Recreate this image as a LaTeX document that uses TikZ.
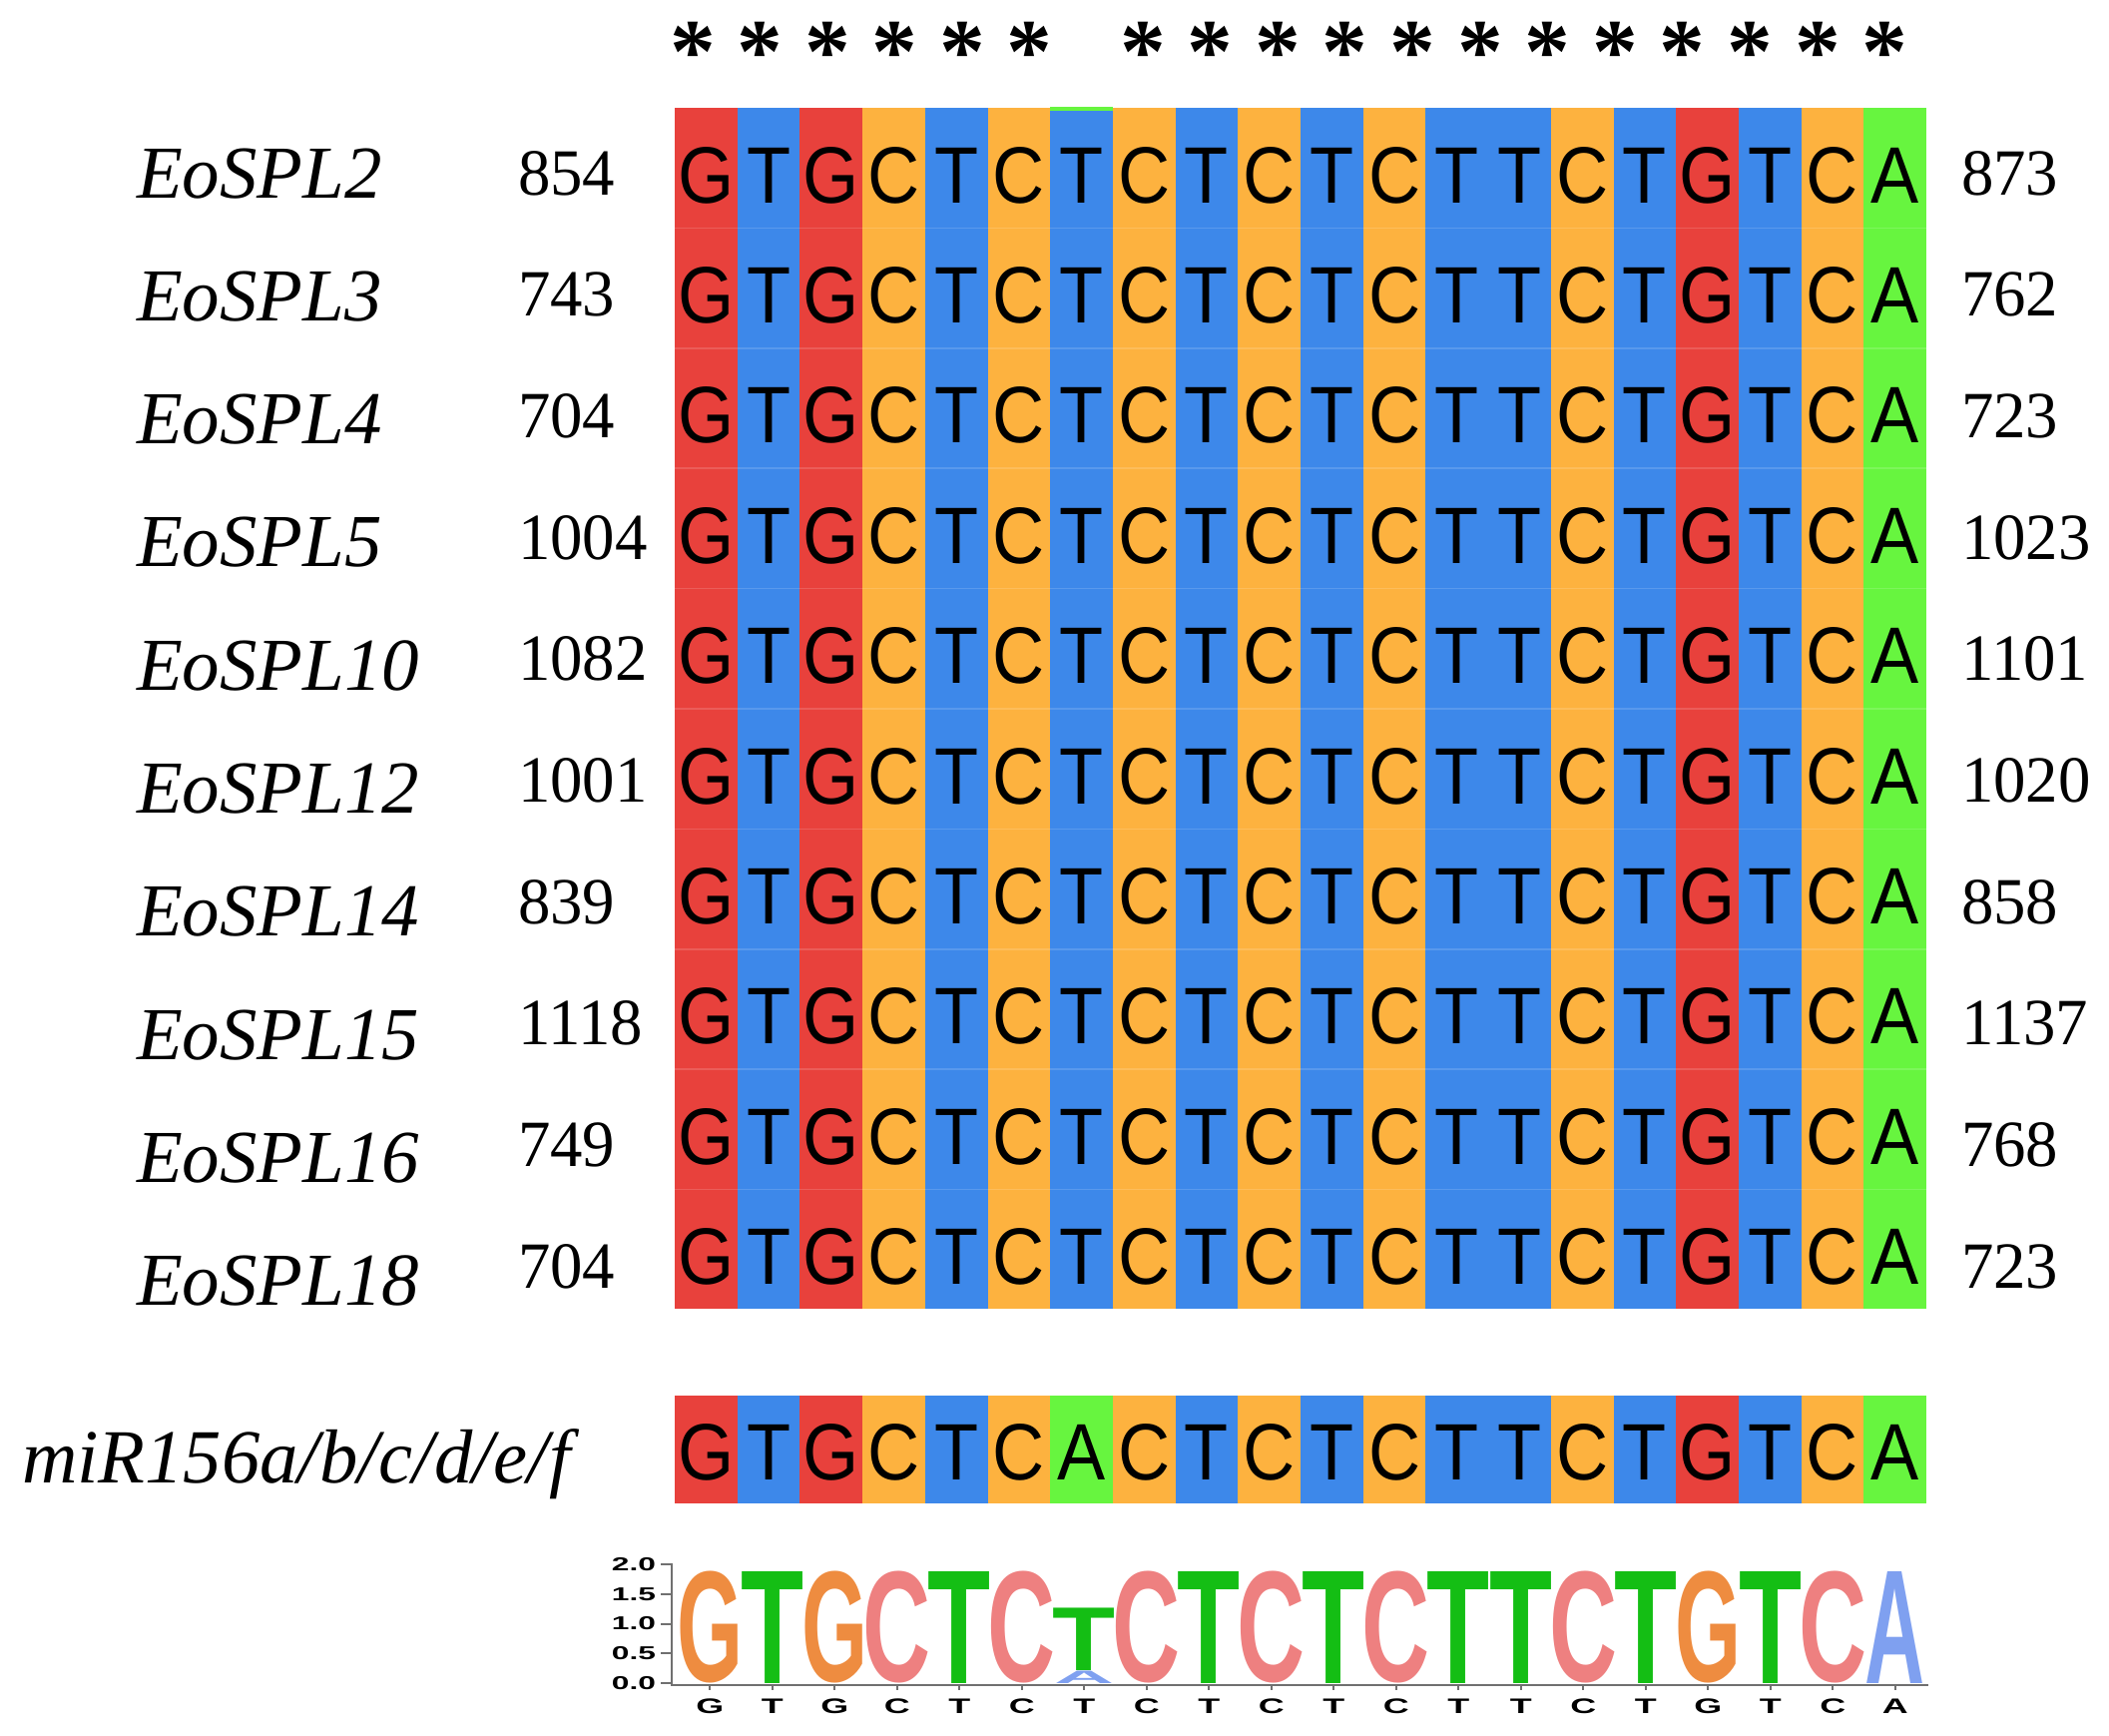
\documentclass[tikz,border=0pt]{standalone}
\usepackage{fontspec}
\usepackage{xcolor}
\usepackage{graphicx}
\setmainfont{Liberation Serif}
\newfontfamily\seqfont{Liberation Sans}[FakeStretch=0.9]
\newfontfamily\numfont{Liberation Serif}[FakeStretch=0.98]
\newfontfamily\logofont{Liberation Sans}
\newfontfamily\tickfont{Liberation Sans}[FakeStretch=1.7]
\usetikzlibrary{calc,positioning}
\definecolor{ntG}{HTML}{E8413C}
\definecolor{ntT}{HTML}{3D88EA}
\definecolor{ntC}{HTML}{FDB23F}
\definecolor{ntA}{HTML}{67F53F}
\definecolor{logoG}{HTML}{EE8C40}
\definecolor{logoT}{HTML}{14BE14}
\definecolor{logoC}{HTML}{EE8080}
\definecolor{logoA}{HTML}{7FA0F0}
\definecolor{AxisGray}{HTML}{707070}
\newcommand\splseq{G,T,G,C,T,C,T,C,T,C,T,C,T,T,C,T,G,T,C,A}
\newcommand\mirseq{G,T,G,C,T,C,A,C,T,C,T,C,T,T,C,T,G,T,C,A}
% box widths of the logo glyphs (side bearings included)
\def\lwG{0.66cm}
\def\lwT{0.63cm}
\def\lwC{0.68cm}
\def\lwA{0.60cm}
\newcommand\logoglyph[3]{\resizebox*{#1}{#2}{\color{logo#3}\logofont\bfseries #3}}

\begin{document}
\begin{tikzpicture}[x=0.01cm,y=-0.01cm,
  every node/.style={inner sep=0pt,outer sep=0pt},
  gene label/.style={anchor=base west,font=\fontsize{21.3pt}{24pt}\selectfont\itshape},
  pos label/.style={anchor=base west,font=\fontsize{18.8pt}{21pt}\numfont},
  base letter/.style={anchor=base,font=\fontsize{22.8pt}{26pt}\seqfont},
  cons star/.style={anchor=base,font=\fontsize{26pt}{28pt}\selectfont\bfseries},
  logo letter/.style={anchor=south},
  axis line/.style={draw=AxisGray,line width=0.02cm},
  tick label/.style={font=\fontsize{5.3pt}{6pt}\tickfont\bfseries},
  rowline/.style={draw=white,opacity=0.15,line width=0.015cm}
]
\useasboundingbox (0,0) rectangle (2113,1738);

% conservation stars
\foreach \i in {0,...,5}
  \node[cons star] (star\i) at ({694+67.5*\i},82) {*};
\foreach \i in {0,...,11}
  \node[cons star] (starb\i) at ({1145+67.6*\i},82) {*};

% alignment colour columns
\foreach \b [count=\c] in \splseq
  \fill[nt\b] ({676+62.7*(\c-1)},108) rectangle ({676+62.7*\c},1311);
\fill[ntA] ({676+62.7*6},107) rectangle ({676+62.7*7},111);
\foreach \k in {1,...,9}
  \draw[rowline] (676,{108+120.4*\k}) -- (1930,{108+120.4*\k});

% bases
\foreach \r in {1,...,10}
  \foreach \b [count=\c] in \splseq
    \node[base letter] (s\r-\c) at ({676+62.7*(\c-0.5)},{203+120.4*(\r-1)}) {\b};

% names and positions
\foreach \g/\p/\q [count=\r] in {EoSPL2/854/873,EoSPL3/743/762,EoSPL4/704/723,
    EoSPL5/1004/1023,EoSPL10/1082/1101,EoSPL12/1001/1020,EoSPL14/839/858,
    EoSPL15/1118/1137,EoSPL16/749/768,EoSPL18/704/723} {
  \node[gene label] (g\r) at (137,{198+123.3*(\r-1)}) {\g};
  \node[pos label] (p\r) at (519,{195+121.7*(\r-1)}) {\p};
  \node[pos label] (q\r) at (1965,{195+121.7*(\r-1)}) {\q};
}

% miRNA row
\node[gene label,font=\fontsize{21.8pt}{24pt}\selectfont\itshape] (mir) at (22,1485) {miR156a/b/c/d/e/f};
\foreach \b [count=\c] in \mirseq {
  \fill[nt\b] ({676+62.7*(\c-1)},1398) rectangle ({676+62.7*\c},1506);
  \node[base letter] (m\c) at ({676+62.7*(\c-0.5)},1482) {\b};
}

% sequence logo
\draw[axis line] (673,1566) -- (673,1688) -- (1932,1688);
\foreach \v [count=\k] in {0.0,0.5,1.0,1.5,2.0} {
  \draw[axis line] (662,{1686-59.5*\v}) -- (673,{1686-59.5*\v});
  \node[tick label,anchor=east] (yt\k) at (657,{1686-59.5*\v}) {\v};
}
\foreach \b [count=\c] in \splseq {
  \ifnum\c=7\relax\else
    \node[logo letter] (logo\c) at ({680+62.5*(\c-0.5)},1686)
      {\logoglyph{\csname lw\b\endcsname}{1.12cm}{\b}};
  \fi
  \draw[axis line] ({680+62.5*(\c-0.5)},1688) -- ({680+62.5*(\c-0.5)},1693);
  \node[tick label,font=\fontsize{6pt}{7pt}\tickfont\bfseries] (xl\c) at ({680+62.5*(\c-0.5)},1709) {\b};
}
\node[logo letter] (logo7a) at ({680+62.5*6.5},1686) {\logoglyph{\lwA}{0.125cm}{A}};
\node[logo letter,above=0pt of logo7a] (logo7t) {\logoglyph{\lwT}{0.625cm}{T}};
\end{tikzpicture}
\end{document}
